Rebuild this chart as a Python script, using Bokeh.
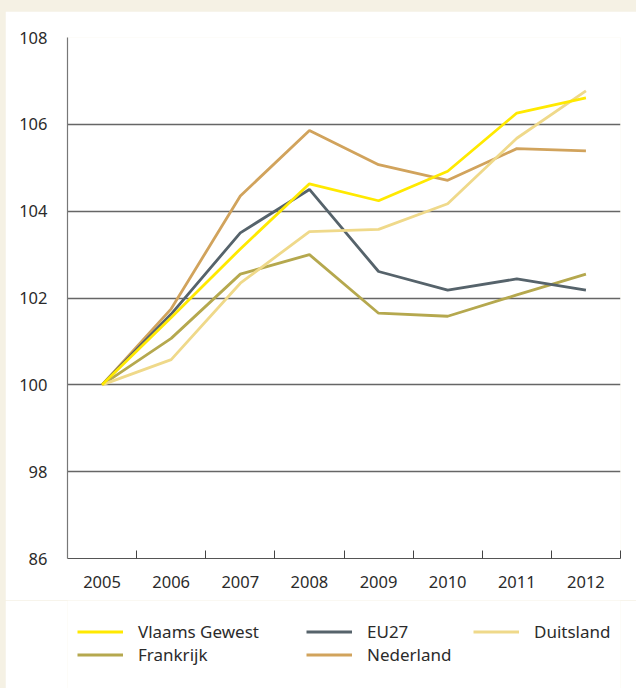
from bokeh.plotting import figure
from bokeh.models import Range1d, FixedTicker, Legend, LegendItem
from bokeh.layouts import column
from bokeh.embed import file_html
from bokeh.resources import INLINE

years = [2005, 2006, 2007, 2008, 2009, 2010, 2011, 2012]
vlaams = [100, 101.55, 103.13, 104.63, 104.24, 104.92, 106.26, 106.61]
eu27 = [100, 101.63, 103.50, 104.50, 102.61, 102.18, 102.44, 102.18]
duitsland = [100, 100.58, 102.34, 103.53, 103.58, 104.17, 105.68, 106.77]
frankrijk = [100, 101.07, 102.55, 103.00, 101.65, 101.58, 102.07, 102.55]
nederland = [100, 101.75, 104.35, 105.86, 105.07, 104.71, 105.44, 105.39]
y_ticks = [96, 98, 100, 102, 104, 106, 108]
y_labels = {96: "86"}

series = [
    ("Frankrijk", frankrijk, "#b5a84e"),
    ("Nederland", nederland, "#d1a35c"),
    ("EU27", eu27, "#56636b"),
    ("Duitsland", duitsland, "#efd98a"),
    ("Vlaams Gewest", vlaams, "#ffe900"),
]

FONT = "Noto Sans"
LW = 2.8
TXT = "#2b2b2b"

p = figure(width=631, height=589, output_backend="svg", toolbar_location=None,
           x_range=Range1d(2004.5, 2012.5), y_range=Range1d(96, 108),
           min_border_left=62, min_border_right=16, min_border_top=26, min_border_bottom=42)
p.background_fill_color = "white"
p.border_fill_color = "white"
p.outline_line_color = None

p.xaxis.ticker = FixedTicker(ticks=years, minor_ticks=[y + 0.5 for y in years])
p.xaxis.major_tick_line_color = None
p.xaxis.minor_tick_in = 8
p.xaxis.minor_tick_out = 0
p.xaxis.minor_tick_line_color = "#444444"
p.xaxis.minor_tick_line_width = 1
p.xaxis.axis_line_color = "#555555"
p.xaxis.axis_line_width = 1.2
p.xaxis.major_label_text_font = FONT
p.xaxis.major_label_text_font_size = "16.5px"
p.xaxis.major_label_text_color = TXT
p.xaxis.major_label_standoff = 11

p.yaxis.ticker = FixedTicker(ticks=y_ticks)
p.yaxis.major_label_overrides = y_labels
p.yaxis.major_tick_line_color = None
p.yaxis.minor_tick_line_color = None
p.yaxis.axis_line_color = "#777777"
p.yaxis.axis_line_width = 1.2
p.yaxis.major_label_text_font = FONT
p.yaxis.major_label_text_font_size = "16.5px"
p.yaxis.major_label_text_color = TXT
p.yaxis.major_label_standoff = 14

p.xgrid.grid_line_color = None
p.ygrid.ticker = FixedTicker(ticks=y_ticks)
p.ygrid.grid_line_color = "#666666"
p.ygrid.grid_line_width = 1.3

for name, vals, col in series:
    p.line(years, vals, line_color=col, line_width=LW)

# legend panel: same series drawn again, but outside this panel's view range,
# so only the legend entries show
p2 = figure(width=631, height=88, output_backend="svg", toolbar_location=None,
            x_range=Range1d(0, 1), y_range=Range1d(0, 1),
            min_border_left=62, min_border_right=16, min_border_top=0, min_border_bottom=0)
p2.axis.visible = False
p2.grid.visible = False
p2.outline_line_color = None
p2.background_fill_color = "white"
p2.border_fill_color = "white"

rend = {}
for name, vals, col in series:
    rend[name] = p2.line(years, vals, line_color=col, line_width=LW)

def make_legend(names, loc):
    lg = Legend(items=[LegendItem(label=n, renderers=[rend[n]]) for n in names],
                location=loc, orientation="vertical")
    lg.background_fill_alpha = 0
    lg.border_line_color = None
    lg.padding = 0
    lg.margin = 0
    lg.spacing = -1
    lg.glyph_width = 46
    lg.glyph_height = 21
    lg.label_height = 21
    lg.label_standoff = 15
    lg.label_text_font = FONT
    lg.label_text_font_size = "17px"
    lg.label_text_color = TXT
    p2.add_layout(lg, "center")

make_legend(["Vlaams Gewest", "Frankrijk"], (10, 22))
make_legend(["EU27", "Nederland"], (239, 22))
make_legend(["Duitsland"], (406, 45))

layout = column(p, p2, spacing=0,
                styles={"background-color": "#f5f1e4", "padding-left": "5px", "padding-top": "11px"})

html = file_html(layout, INLINE)
open("out.html", "w").write(html)
